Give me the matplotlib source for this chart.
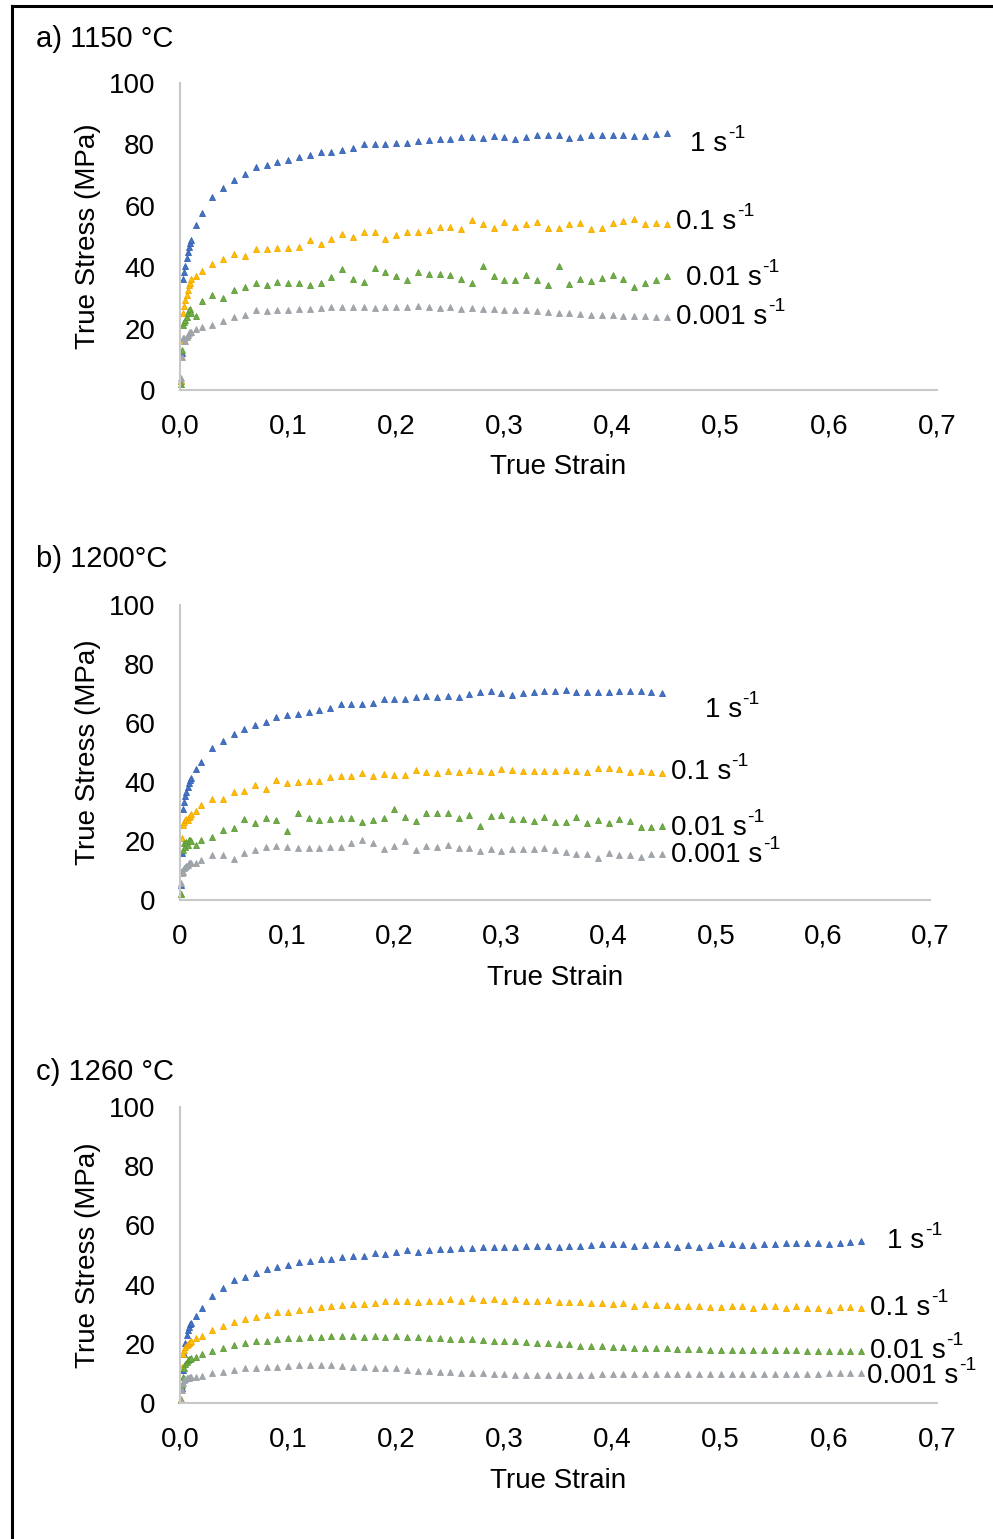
import matplotlib
matplotlib.use("Agg")
import matplotlib.pyplot as plt
from matplotlib.lines import Line2D

plt.rcParams['font.family'] = ['Liberation Sans', 'DejaVu Sans']

# ---- data ----
strain_ab = [0.001, 0.002, 0.003, 0.004, 0.005, 0.006, 0.007, 0.008, 0.009, 0.010, 0.015, 0.02,
             0.03, 0.04, 0.05, 0.06, 0.07, 0.08, 0.09, 0.10, 0.11, 0.12, 0.13, 0.14, 0.15,
             0.16, 0.17, 0.18, 0.19, 0.20, 0.21, 0.22, 0.23, 0.24, 0.25, 0.26, 0.27, 0.28,
             0.29, 0.30, 0.31, 0.32, 0.33, 0.34, 0.35, 0.36, 0.37, 0.38, 0.39, 0.40, 0.41,
             0.42, 0.43, 0.44, 0.45]

strain_c = [0.001, 0.002, 0.003, 0.004, 0.005, 0.006, 0.007, 0.008, 0.009, 0.010, 0.015, 0.02,
            0.03, 0.04, 0.05, 0.06, 0.07, 0.08, 0.09, 0.10, 0.11, 0.12, 0.13, 0.14, 0.15,
            0.16, 0.17, 0.18, 0.19, 0.20, 0.21, 0.22, 0.23, 0.24, 0.25, 0.26, 0.27, 0.28,
            0.29, 0.30, 0.31, 0.32, 0.33, 0.34, 0.35, 0.36, 0.37, 0.38, 0.39, 0.40, 0.41,
            0.42, 0.43, 0.44, 0.45, 0.46, 0.47, 0.48, 0.49, 0.50, 0.51, 0.52, 0.53, 0.54,
            0.55, 0.56, 0.57, 0.58, 0.59, 0.60, 0.61, 0.62, 0.63]

# a) 1150 C
a_1 = [3, 12, 36.0, 38.5, 40.5, 42.9, 45.1, 46.7, 48.0, 48.7, 53.8, 57.8,
       62.7, 65.7, 68.4, 70.4, 72.5, 73.2, 74.2, 74.8, 76.0, 76.4, 77.6, 77.5, 78.1, 78.8,
       80.0, 80.2, 80.2, 80.4, 80.6, 81.0, 81.5, 81.7, 81.8, 82.3, 82.3, 82.2, 82.8, 82.4,
       81.7, 82.4, 83.2, 83.1, 83.0, 82.0, 82.3, 82.9, 82.9, 83.2, 83.0, 82.8, 82.7, 83.3, 83.8]
a_01 = [3, 16, 25.0, 27.2, 29.4, 31.0, 32.6, 34.2, 35.0, 36.0, 37.0, 38.9,
        41.0, 42.8, 44.3, 43.7, 46.0, 46.0, 46.4, 46.4, 46.5, 48.8, 47.7, 49.2, 50.9, 49.8,
        51.4, 51.5, 49.3, 50.6, 51.3, 51.3, 52.2, 53.2, 53.2, 52.4, 55.5, 54.0, 52.7, 54.7,
        53.2, 54.1, 54.7, 52.6, 52.6, 54.2, 54.3, 52.3, 52.9, 54.3, 55.1, 55.7, 54.0, 54.5, 54.0]
a_001 = [2, 13, 21.2, 22.3, 22.8, 23.9, 25.0, 26.1, 26.3, 25.0, 24.1, 29.0,
         30.8, 30.0, 32.6, 33.4, 34.7, 34.1, 35.3, 34.8, 34.7, 34.1, 34.7, 36.8, 39.3, 36.0,
         35.1, 39.7, 38.5, 37.2, 35.9, 38.3, 37.7, 37.7, 37.4, 36.1, 34.7, 40.3, 37.0, 35.8,
         35.8, 37.3, 35.8, 34.1, 40.4, 34.5, 36.1, 35.5, 36.6, 37.4, 36.2, 33.7, 34.7, 35.9, 37.0]
a_0001 = [4, 10.9, 16.9, 16.9, 16.1, 17.2, 18.0, 18.5, 18.8, 19.0, 19.9, 20.5,
          21.3, 22.4, 23.9, 24.5, 25.9, 25.7, 26.2, 26.2, 26.3, 26.5, 26.8, 26.9, 26.9, 27.1,
          27.0, 26.8, 27.1, 27.0, 27.0, 27.3, 26.9, 26.6, 26.9, 26.5, 26.8, 26.3, 26.3, 26.1,
          26.0, 25.9, 25.6, 25.3, 25.2, 25.1, 24.9, 24.5, 24.5, 24.4, 24.1, 24.0, 24.0, 23.9, 23.9]

# b) 1200 C
b_1 = [5, 15.8, 30.7, 33.3, 35.2, 36.7, 38.4, 39.5, 40.7, 41.5, 44.3, 46.9,
       51.4, 54.0, 56.1, 57.8, 59.2, 60.5, 61.9, 62.7, 62.9, 63.7, 64.3, 65.2, 66.3, 66.3,
       66.5, 66.9, 68.0, 68.0, 68.3, 68.9, 69.2, 68.7, 69.1, 68.9, 69.9, 70.5, 70.7, 70.2,
       69.4, 70.3, 70.6, 70.8, 70.8, 71.3, 70.6, 70.4, 70.4, 70.5, 70.7, 70.7, 70.8, 70.4, 70.2]
b_01 = [2, 20.9, 25.4, 26.5, 27.1, 27.3, 27.1, 28.2, 28.5, 29.0, 30.3, 32.1,
        34.4, 34.4, 36.7, 37.0, 39.1, 37.7, 40.7, 39.5, 40.1, 40.3, 40.3, 41.8, 42.1, 42.1,
        43.0, 41.9, 42.8, 42.5, 42.4, 43.9, 43.5, 43.1, 43.8, 43.5, 44.2, 43.8, 43.3, 44.4,
        44.1, 43.7, 43.7, 43.7, 43.7, 43.9, 43.7, 43.4, 44.7, 44.8, 44.3, 43.4, 43.8, 43.4, 43.0]
b_001 = [2, 10, 16.9, 19.2, 18.1, 19.8, 18.6, 20.3, 20.5, 20.0, 18.6, 20.3,
         21.5, 23.7, 24.3, 27.4, 26.0, 27.7, 27.1, 23.5, 29.4, 27.9, 27.1, 27.3, 27.7, 27.9,
         26.5, 27.1, 27.7, 30.7, 28.2, 26.8, 29.4, 29.6, 29.4, 27.7, 28.8, 25.1, 28.6, 28.8,
         27.3, 27.6, 26.8, 28.2, 26.5, 26.5, 28.0, 26.0, 27.1, 26.0, 27.4, 26.7, 24.8, 24.8, 25.2]
b_0001 = [5.6, 9.0, 9.6, 10.7, 11.3, 11.5, 11.8, 12.4, 12.5, 12.6, 12.6, 13.5,
          15.2, 15.2, 13.8, 16.1, 16.9, 18.1, 18.4, 18.1, 17.5, 17.5, 17.5, 17.8, 18.1, 19.4,
          20.3, 19.2, 17.4, 18.3, 20.1, 16.9, 18.4, 18.1, 18.6, 17.5, 17.5, 16.7, 17.2, 16.6,
          17.3, 17.3, 17.4, 17.6, 16.9, 16.4, 15.6, 15.6, 14.3, 16.1, 15.1, 15.1, 14.7, 15.5, 15.5]

# c) 1260 C
c_1 = [1, 5, 11.1, 16.7, 20.1, 22.9, 24.6, 25.7, 26.6, 27.0, 29.4, 32.2,
       36.1, 39.0, 41.5, 42.6, 44.0, 45.1, 45.8, 46.6, 47.7, 47.9, 48.6, 48.6, 49.4, 49.5,
       49.7, 50.8, 50.4, 51.0, 51.6, 51.1, 51.8, 51.9, 52.0, 52.3, 52.3, 52.6, 52.6, 52.6,
       52.8, 53.2, 53.1, 53.0, 52.8, 53.2, 53.2, 53.3,
       53.6, 53.6, 53.7, 53.2, 53.4, 53.6, 53.6, 52.8, 53.3, 52.8, 53.3, 54.2, 53.6, 53.4,
       53.4, 53.7, 53.8, 54.0, 54.1, 54.0, 54.0, 53.7, 54.2, 54.3, 54.7]
c_01 = [1.5, 12, 16.7, 17.9, 19.0, 19.5, 19.9, 20.2, 20.5, 21.0, 22.1, 22.6,
        24.6, 26.0, 27.4, 28.2, 29.1, 29.7, 30.8, 30.6, 31.4, 31.9, 32.3, 32.7, 33.0, 33.6,
        33.3, 33.9, 34.3, 34.3, 34.5, 34.2, 34.5, 34.5, 35.2, 34.4, 35.3, 34.8, 35.0, 34.4,
        35.0, 34.5, 34.4, 34.8, 34.2, 34.2, 34.2, 33.9,
        33.7, 33.5, 33.9, 32.9, 33.4, 33.1, 33.0, 32.8, 32.6, 32.6, 32.3, 32.3, 32.6, 32.6,
        32.0, 32.8, 32.6, 32.0, 32.6, 32.0, 32.0, 31.4, 32.3, 32.3, 32.1]
c_001 = [1, 6, 8.9, 11.7, 13.1, 13.9, 14.5, 14.8, 15.0, 15.2, 15.4, 16.5,
         17.6, 18.4, 19.6, 20.1, 20.8, 21.0, 21.5, 21.8, 22.1, 22.4,
         22.4, 22.6, 22.6, 22.6, 22.4, 22.6, 22.4, 22.6, 22.4, 22.4,
         22.1, 22.0, 21.7, 21.7, 21.5, 21.2, 21.0, 20.9, 20.8, 20.5,
         20.1, 20.1, 19.8, 19.8, 19.3, 19.3, 19.1, 19.0, 18.9, 18.7,
         18.6, 18.5, 18.5, 18.3, 18.2, 18.1, 18.0, 17.9, 17.9, 17.8,
         17.8, 17.8, 17.8, 17.8, 17.8, 17.7, 17.6, 17.6, 17.6, 17.6, 17.5]
c_0001 = [1, 4.4, 6.6, 7.7, 8.1, 8.3, 8.5, 8.6, 8.7, 8.7, 8.8, 9.0,
          10.0, 10.5, 11.1, 11.7, 11.9, 12.0, 12.2, 12.6, 12.8, 12.9,
          12.8, 12.8, 12.6, 12.2, 12.0, 11.9, 11.9, 11.7, 11.3, 10.9,
          10.7, 10.5, 10.3, 10.2, 10.0, 10.0, 9.9, 9.8, 9.6, 9.6,
          9.5, 9.5, 9.5, 9.6, 9.6, 9.6, 9.7, 9.7, 9.7, 9.7,
          9.7, 9.7, 9.7, 9.7, 9.7, 9.7, 9.8, 9.8, 9.7, 9.7,
          9.8, 9.8, 9.8, 9.9, 9.9, 9.9, 9.9, 10.0, 10.0, 10.0, 10.1]

rate_labels = ['1 s', '0.1 s', '0.01 s', '0.001 s']
colors = ['#4472C4', '#FFC000', '#70AD47', '#A5A5A5']
edges = ['#3461B0', '#F2A800', '#5C9B36', '#9AA3AD']

xtick_vals = [0, 0.1, 0.2, 0.3, 0.4, 0.5, 0.6, 0.7]
xticks_ac = ['0,0', '0,1', '0,2', '0,3', '0,4', '0,5', '0,6', '0,7']
xticks_b = ['0', '0,1', '0,2', '0,3', '0,4', '0,5', '0,6', '0,7']
yticks = [0, 20, 40, 60, 80, 100]

panels = [
    dict(title='a) 1150 °C', strain=strain_ab, series=[a_1, a_01, a_001, a_0001],
         pos=[0.1813, 0.7466, 0.7623, 0.1995], xt=xticks_ac, ty=0.9747, xl=-0.21,
         lab=[(0.472, 80.0), (0.459, 54.7), (0.468, 36.5), (0.459, 23.8)]),
    dict(title='b) 1200°C', strain=strain_ab, series=[b_1, b_01, b_001, b_0001],
         pos=[0.1813, 0.4152, 0.7553, 0.1917], xt=xticks_b, ty=0.6368, xl=-0.22,
         lab=[(0.490, 64.4), (0.458, 43.4), (0.458, 24.4), (0.458, 15.3)]),
    dict(title='c) 1260 °C', strain=strain_c, series=[c_1, c_01, c_001, c_0001],
         pos=[0.1813, 0.0884, 0.7623, 0.1923], xt=xticks_ac, ty=0.3034, xl=-0.22,
         lab=[(0.654, 54.7), (0.638, 32.1), (0.638, 17.6), (0.635, 9.1)]),
]

fig = plt.figure(figsize=(9.93, 15.39), dpi=100)

for p in panels:
    ax = fig.add_axes(p['pos'])
    for ys, c, ec in zip(p['series'], colors, edges):
        ax.plot(p['strain'], ys, linestyle='none', marker='^', ms=5,
                mfc=c, mec=ec, mew=0.6, clip_on=False)
    ax.set_xlim(0, 0.7)
    ax.set_ylim(0, 100)
    ax.set_xticks(xtick_vals)
    ax.set_xticklabels(p['xt'])
    ax.set_yticks(yticks)
    ax.tick_params(length=0, labelsize=20)
    ax.tick_params(axis='x', pad=17)
    ax.tick_params(axis='y', pad=18)
    for s in ['top', 'right']:
        ax.spines[s].set_visible(False)
    for s in ['left', 'bottom']:
        ax.spines[s].set_color('#C8C8C8')
        ax.spines[s].set_linewidth(1.5)
    ax.set_xlabel('True Strain', fontsize=20)
    ax.set_ylabel('True Stress (MPa)', fontsize=20)
    ax.xaxis.set_label_coords(0.5, p['xl'])
    ax.yaxis.set_label_coords(-0.105, 0.5)
    for txt, (lx, ly) in zip(rate_labels, p['lab']):
        t = ax.text(lx, ly, txt, fontsize=20, va='center', ha='left', clip_on=False)
        ax.annotate('-1', xy=(1.01, 0.58), xycoords=t, fontsize=14,
                    va='bottom', ha='left', annotation_clip=False)
    fig.text(0.0363, p['ty'], p['title'], fontsize=21, va='center', ha='left')

# frame around the figure (left and top edges only)
fig.add_artist(Line2D([0.0116, 0.0116], [0.0, 0.9958], color='black', lw=2.2,
                      transform=fig.transFigure))
fig.add_artist(Line2D([0.0116, 1.0], [0.9958, 0.9958], color='black', lw=2.2,
                      transform=fig.transFigure))

fig.savefig('out.png', dpi=100)
